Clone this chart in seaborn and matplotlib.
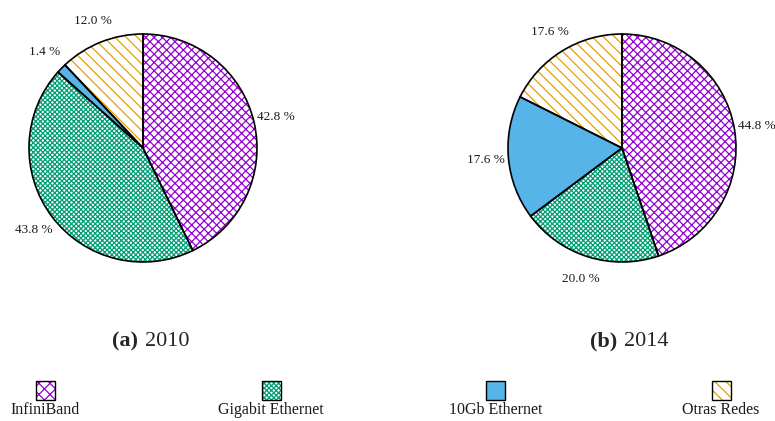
import matplotlib
matplotlib.use("Agg")
import matplotlib.pyplot as plt
from matplotlib.patches import Rectangle
import seaborn as sns

sns.set_theme(style="white")
plt.rcParams["font.family"] = ["Liberation Serif", "DejaVu Serif"]
plt.rcParams["hatch.linewidth"] = 0.9

categories = ["InfiniBand", "Gigabit Ethernet", "10Gb Ethernet", "Otras Redes"]
share_2010 = [42.8, 43.8, 1.4, 12.0]
share_2014 = [44.8, 20.0, 17.6, 17.6]
panel_tags = ["(a)", "(b)"]
panel_years = ["2010", "2014"]

colors = ["#9400D3", "#009E73", "#56B4E9", "#E69F00"]
hatches = ["xxxx", "xxxxxxx", None, "\\\\\\"]
legend_hatches = ["xxx", "xxxxxxx", None, "\\\\\\"]
solid = [False, False, True, False]

W, H = 775, 421
fig = plt.figure(figsize=(W / 100, H / 100), dpi=100)


def fx(px):
    return px / W


def fy(py):
    return 1 - py / H


R = 114
centers = [(143, 148), (622, 148)]


def draw_pie(ax, values):
    # hatched / filled wedges
    wedges, texts = ax.pie(
        values, startangle=90, counterclock=False, radius=1,
        labels=[f"{v:.1f} %" for v in values], labeldistance=1.2,
        textprops=dict(fontsize=9.5, color="#1a1a1a", ha="center", va="center"),
        wedgeprops=dict(linewidth=0), frame=False,
    )
    for w, c, h, s in zip(wedges, colors, hatches, solid):
        if s:
            w.set_facecolor(c)
            w.set_edgecolor(c)
        else:
            w.set_facecolor("white")
            w.set_edgecolor(c)
            w.set_hatch(h)
    # black outlines on top
    ax.pie(values, startangle=90, counterclock=False, radius=1,
           wedgeprops=dict(facecolor="none", edgecolor="black", linewidth=1.2),
           frame=False)
    ax.set_xlim(-1, 1)
    ax.set_ylim(-1, 1)
    ax.set_aspect("auto")
    ax.axis("off")


for (cx, cy), vals, tag, yr in zip(centers, [share_2010, share_2014], panel_tags, panel_years):
    ax = fig.add_axes([fx(cx - R), fy(cy + R), (2 * R) / W, (2 * R) / H])
    draw_pie(ax, vals)
    ax.patch.set_alpha(0)
    fig.text(fx(cx - 5), fy(341), tag, ha="right", va="center", fontsize=16, fontweight="bold")
    fig.text(fx(cx + 2), fy(341), yr, ha="left", va="center", fontsize=16)

# legend row: swatch above each label
legend_x = [45, 271, 496, 721]
sw = 19
for x, name, c, h, s in zip(legend_x, categories, colors, legend_hatches, solid):
    x0, y0 = fx(x - sw / 2), fy(400)
    if s:
        fig.add_artist(Rectangle((x0, y0), sw / W, sw / H, transform=fig.transFigure,
                                 facecolor=c, edgecolor="black", linewidth=1))
    else:
        fig.add_artist(Rectangle((x0, y0), sw / W, sw / H, transform=fig.transFigure,
                                 facecolor="white", edgecolor=c, linewidth=0, hatch=h))
        fig.add_artist(Rectangle((x0, y0), sw / W, sw / H, transform=fig.transFigure,
                                 facecolor="none", edgecolor="black", linewidth=1))
    fig.text(fx(x), fy(410), name, ha="center", va="center", fontsize=11.5, color="#1a1a1a")

fig.savefig("out.png", dpi=100)
